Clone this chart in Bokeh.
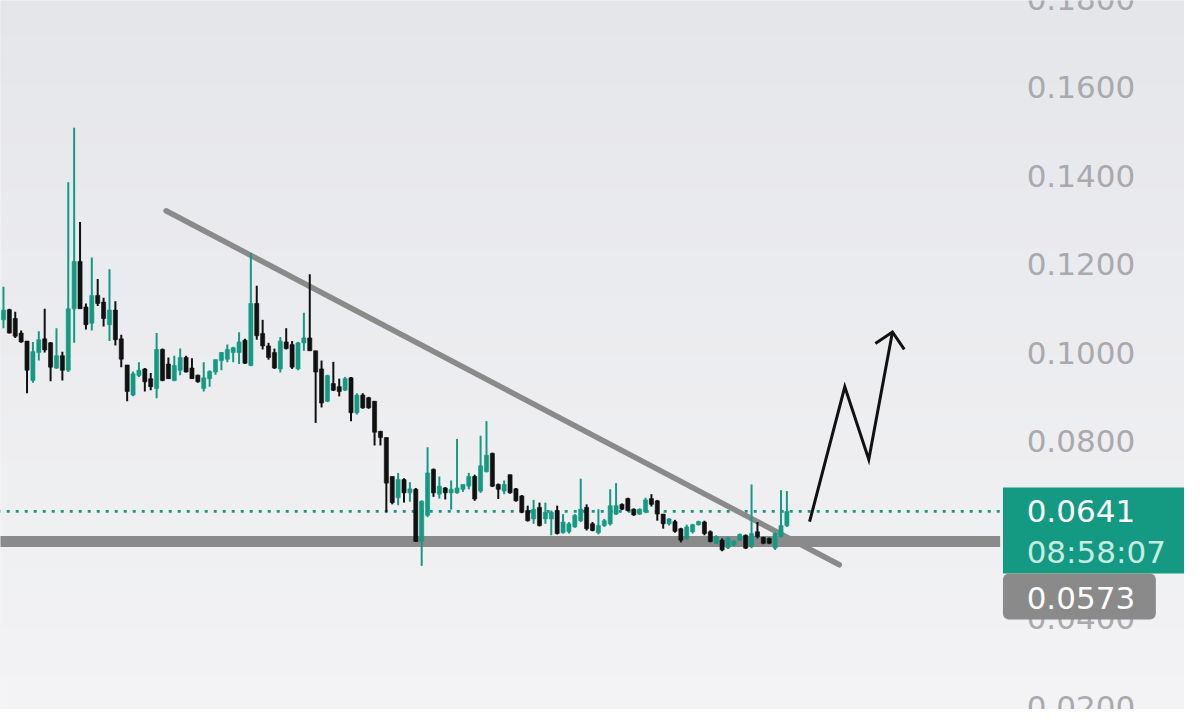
from bokeh.plotting import figure
from bokeh.models import Range1d, BoxAnnotation, Label, ColumnDataSource
from bokeh.embed import file_html
from bokeh.resources import INLINE
from bokeh.core.properties import value

# ---------------- data ----------------
opens = [0.1074, 0.1097, 0.1077, 0.1044, 0.1026, 0.0937, 0.1000, 0.1031, 0.1022, 0.0965,
         0.0993, 0.0960, 0.1099, 0.1206, 0.1103, 0.1066, 0.1129, 0.1114, 0.1063, 0.1096,
         0.1031, 0.0972, 0.0904, 0.0948, 0.0963, 0.0941, 0.0919, 0.1007, 0.0974, 0.0937,
         0.0960, 0.0989, 0.0965, 0.0949, 0.0919, 0.0941, 0.0956, 0.0982, 0.0985, 0.1000,
         0.1000, 0.1028, 0.0971, 0.1111, 0.1043, 0.1015, 0.1000, 0.0963, 0.1024, 0.1018,
         0.0963, 0.1022, 0.1033, 0.1004, 0.0963, 0.0890, 0.0930, 0.0923, 0.0915, 0.0943,
         0.0864, 0.0904, 0.0898, 0.0890, 0.0822, 0.0808, 0.0720, 0.0672, 0.0713, 0.0683,
         0.0691, 0.0573, 0.0632, 0.0736, 0.0680, 0.0694, 0.0683, 0.0683, 0.0691, 0.0698,
         0.0720, 0.0687, 0.0731, 0.0772, 0.0702, 0.0687, 0.0724, 0.0692, 0.0676, 0.0643,
         0.0624, 0.0650, 0.0624, 0.0624, 0.0643, 0.0593, 0.0595, 0.0606, 0.0620, 0.0650,
         0.0613, 0.0593, 0.0609, 0.0613, 0.0635, 0.0657, 0.0670, 0.0646, 0.0635, 0.0640,
         0.0670, 0.0665, 0.0635, 0.0613, 0.0618, 0.0602, 0.0579, 0.0595, 0.0611, 0.0617,
         0.0595, 0.0569, 0.0576, 0.0559, 0.0565, 0.0576, 0.0587, 0.0562, 0.0595, 0.0582,
         0.0580, 0.0558, 0.0584, 0.0609]
highs = [0.1149, 0.1099, 0.1092, 0.1050, 0.1026, 0.1024, 0.1048, 0.1099, 0.1024, 0.1055,
         0.1002, 0.1385, 0.1508, 0.1295, 0.1111, 0.1215, 0.1166, 0.1124, 0.1188, 0.1116,
         0.1040, 0.0972, 0.0957, 0.0978, 0.0965, 0.0954, 0.1044, 0.1009, 0.0989, 0.0993,
         0.1009, 0.0993, 0.0987, 0.0950, 0.0978, 0.0960, 0.0985, 0.1001, 0.1018, 0.1013,
         0.1046, 0.1031, 0.1225, 0.1151, 0.1074, 0.1022, 0.1009, 0.1035, 0.1055, 0.1026,
         0.1024, 0.1090, 0.1177, 0.1004, 0.0982, 0.0950, 0.0979, 0.0941, 0.0945, 0.0945,
         0.0908, 0.0908, 0.0900, 0.0890, 0.0823, 0.0808, 0.0720, 0.0728, 0.0716, 0.0707,
         0.0694, 0.0666, 0.0786, 0.0738, 0.0720, 0.0696, 0.0711, 0.0805, 0.0702, 0.0728,
         0.0724, 0.0812, 0.0845, 0.0774, 0.0704, 0.0711, 0.0724, 0.0694, 0.0678, 0.0654,
         0.0667, 0.0661, 0.0661, 0.0643, 0.0654, 0.0635, 0.0617, 0.0635, 0.0715, 0.0657,
         0.0617, 0.0646, 0.0624, 0.0691, 0.0705, 0.0659, 0.0672, 0.0648, 0.0648, 0.0672,
         0.0680, 0.0667, 0.0635, 0.0626, 0.0622, 0.0604, 0.0611, 0.0613, 0.0620, 0.0620,
         0.0598, 0.0587, 0.0580, 0.0584, 0.0576, 0.0591, 0.0589, 0.0702, 0.0617, 0.0584,
         0.0582, 0.0593, 0.0689, 0.0687]
lows = [0.1055, 0.1043, 0.1033, 0.1022, 0.0908, 0.0932, 0.0982, 0.1000, 0.0935, 0.0963,
        0.0937, 0.0956, 0.1022, 0.1099, 0.1052, 0.1050, 0.1105, 0.1059, 0.1026, 0.1016,
        0.0967, 0.0890, 0.0901, 0.0945, 0.0912, 0.0915, 0.0897, 0.0935, 0.0940, 0.0935,
        0.0949, 0.0955, 0.0940, 0.0932, 0.0912, 0.0923, 0.0950, 0.0960, 0.0978, 0.0978,
        0.0974, 0.0974, 0.0969, 0.1029, 0.1007, 0.0984, 0.0963, 0.0955, 0.1007, 0.0963,
        0.0960, 0.1004, 0.1004, 0.0841, 0.0876, 0.0888, 0.0913, 0.0901, 0.0913, 0.0845,
        0.0860, 0.0873, 0.0873, 0.0790, 0.0790, 0.0639, 0.0657, 0.0655, 0.0661, 0.0663,
        0.0572, 0.0518, 0.0628, 0.0674, 0.0670, 0.0668, 0.0645, 0.0681, 0.0685, 0.0691,
        0.0665, 0.0683, 0.0729, 0.0696, 0.0669, 0.0680, 0.0681, 0.0663, 0.0637, 0.0618,
        0.0613, 0.0607, 0.0613, 0.0587, 0.0589, 0.0591, 0.0591, 0.0604, 0.0617, 0.0598,
        0.0596, 0.0589, 0.0606, 0.0609, 0.0633, 0.0644, 0.0641, 0.0631, 0.0633, 0.0637,
        0.0652, 0.0620, 0.0602, 0.0609, 0.0593, 0.0571, 0.0577, 0.0591, 0.0609, 0.0587,
        0.0571, 0.0567, 0.0551, 0.0556, 0.0562, 0.0574, 0.0556, 0.0558, 0.0580, 0.0567,
        0.0567, 0.0554, 0.0582, 0.0606]
closes = [0.1096, 0.1044, 0.1037, 0.1024, 0.0960, 0.1002, 0.1029, 0.1006, 0.0967, 0.0993,
          0.0960, 0.1099, 0.1206, 0.1099, 0.1063, 0.1129, 0.1111, 0.1077, 0.1096, 0.1029,
          0.0985, 0.0912, 0.0952, 0.0960, 0.0934, 0.0923, 0.1007, 0.0937, 0.0941, 0.0971,
          0.0989, 0.0956, 0.0941, 0.0934, 0.0943, 0.0957, 0.0984, 0.1000, 0.1007, 0.1011,
          0.1024, 0.0976, 0.1111, 0.1038, 0.1015, 0.0989, 0.0965, 0.1026, 0.1009, 0.0967,
          0.1022, 0.1033, 0.1004, 0.0956, 0.0886, 0.0948, 0.0915, 0.0912, 0.0941, 0.0864,
          0.0904, 0.0875, 0.0875, 0.0820, 0.0808, 0.0705, 0.0661, 0.0713, 0.0683, 0.0692,
          0.0573, 0.0664, 0.0728, 0.0683, 0.0698, 0.0683, 0.0691, 0.0694, 0.0702, 0.0720,
          0.0669, 0.0744, 0.0768, 0.0698, 0.0691, 0.0702, 0.0683, 0.0665, 0.0639, 0.0620,
          0.0646, 0.0609, 0.0639, 0.0639, 0.0591, 0.0617, 0.0613, 0.0632, 0.0646, 0.0602,
          0.0598, 0.0609, 0.0620, 0.0654, 0.0654, 0.0646, 0.0643, 0.0633, 0.0646, 0.0667,
          0.0657, 0.0635, 0.0613, 0.0624, 0.0596, 0.0576, 0.0606, 0.0611, 0.0618, 0.0591,
          0.0573, 0.0584, 0.0554, 0.0580, 0.0574, 0.0589, 0.0558, 0.0591, 0.0584, 0.0569,
          0.0569, 0.0591, 0.0609, 0.0641]

price_ticks = [0.18, 0.16, 0.14, 0.12, 0.10, 0.08, 0.04, 0.02]
price_tick_labels = ["0.1800", "0.1600", "0.1400", "0.1200", "0.1000", "0.0800", "0.0400", "0.0200"]

last_price = 0.0641
last_price_label = "0.0641"
countdown_label = "08:58:07"
support_price = 0.0573
support_label = "0.0573"

# drawn annotations (bar index, price)
trend_x = [27.6, 141.9]
trend_y = [0.13204, 0.05204]
arrow_x = [136.85, 142.83, 146.9, 150.92]
arrow_y = [0.06177, 0.09227, 0.07585, 0.10464]
arrowhead_x = [148.02, 150.92, 152.93]
arrowhead_y = [0.10206, 0.10464, 0.10073]

# ---------------- styling ----------------
GREEN = "#149a83"
BLACK = "#111111"
GRAY = "#8a8a8a"
LABEL_GRAY = "#a9a9ae"
FONT = "DejaVu Sans"
FS = "31px"

n = len(opens)
idx = list(range(n))
colors = [GREEN if c >= o else BLACK for o, c in zip(opens, closes)]
body_top = [max(o, c) for o, c in zip(opens, closes)]
body_bot = [min(o, c) for o, c in zip(opens, closes)]
src = ColumnDataSource(dict(x=idx, o=opens, h=highs, l=lows, c=closes,
                            top=body_top, bottom=body_bot, color=colors))

W, H = 1184, 709
x0, x1 = -0.503, 200.5
y0, y1 = 0.019337, 0.17956

p = figure(width=W, height=H, output_backend="svg", toolbar_location=None,
           x_range=Range1d(x0, x1), y_range=Range1d(y0, y1),
           x_axis_location=None, y_axis_location=None, min_border=0)
p.grid.visible = False
p.outline_line_color = None
p.background_fill_color = "#ececef"
p.border_fill_color = "#ececef"

# vertical background gradient
nb = 60
top_rgb = (229, 230, 234)
bot_rgb = (243, 243, 245)
bands_b, bands_t, bands_c = [], [], []
for k in range(nb):
    f = k / (nb - 1)
    r = round(bot_rgb[0] + (top_rgb[0] - bot_rgb[0]) * f)
    g = round(bot_rgb[1] + (top_rgb[1] - bot_rgb[1]) * f)
    b = round(bot_rgb[2] + (top_rgb[2] - bot_rgb[2]) * f)
    bands_b.append(y0 + (y1 - y0) * k / nb - 0.0002)
    bands_t.append(y0 + (y1 - y0) * (k + 1) / nb + 0.0002)
    bands_c.append("#%02x%02x%02x" % (r, g, b))
p.quad(left=x0 - 5, right=x1 + 5, bottom=bands_b, top=bands_t, fill_color=bands_c, line_color=None)

# price-scale labels
lbl_x = 173.7
p.text(x=[lbl_x] * len(price_ticks), y=price_ticks, text=price_tick_labels,
       text_font=value(FONT), text_font_size=FS, text_color=LABEL_GRAY,
       text_baseline="middle", text_align="left")

# last price dotted line and support line
line_end = 169.2
p.line([x0 - 2, line_end], [last_price, last_price], line_color=GREEN, line_width=2.6, line_dash="3 6")
p.line([x0 - 2, line_end], [support_price, support_price], line_color=GRAY, line_width=11)

# trend line
p.line(trend_x, trend_y, line_color=GRAY, line_width=5.5, line_cap="round")

# candles
p.segment(x0="x", y0="h", x1="x", y1="l", source=src, line_color="color", line_width=2.0)
p.vbar(x="x", top="top", bottom="bottom", width=0.7, source=src, fill_color="color", line_color="color", line_width=0.6)

# arrow
p.line(arrow_x, arrow_y, line_color="#111111", line_width=3, line_join="miter")
p.line(arrowhead_x, arrowhead_y, line_color="#111111", line_width=3, line_join="miter")

# price boxes
box_left = 169.68
p.add_layout(BoxAnnotation(left=box_left, right=x1 + 2, top=0.06950, bottom=0.05006,
                           fill_color=GREEN, fill_alpha=1.0, line_color=None))
p.add_layout(BoxAnnotation(left=box_left, right=195.64, top=0.05006, bottom=0.03967,
                           fill_color=GRAY, fill_alpha=1.0, line_color=None, border_radius=6))

p.add_layout(Label(x=lbl_x, y=last_price, text=last_price_label, text_font=FONT,
                   text_font_size=FS, text_color="white", text_baseline="middle"))
p.add_layout(Label(x=lbl_x, y=0.0550, text=countdown_label, text_font=FONT,
                   text_font_size=FS, text_color="#c6ece1", text_baseline="middle"))
p.add_layout(Label(x=lbl_x, y=0.0445, text=support_label, text_font=FONT,
                   text_font_size=FS, text_color="white", text_baseline="middle"))

open("out.html", "w").write(file_html(p, INLINE))
